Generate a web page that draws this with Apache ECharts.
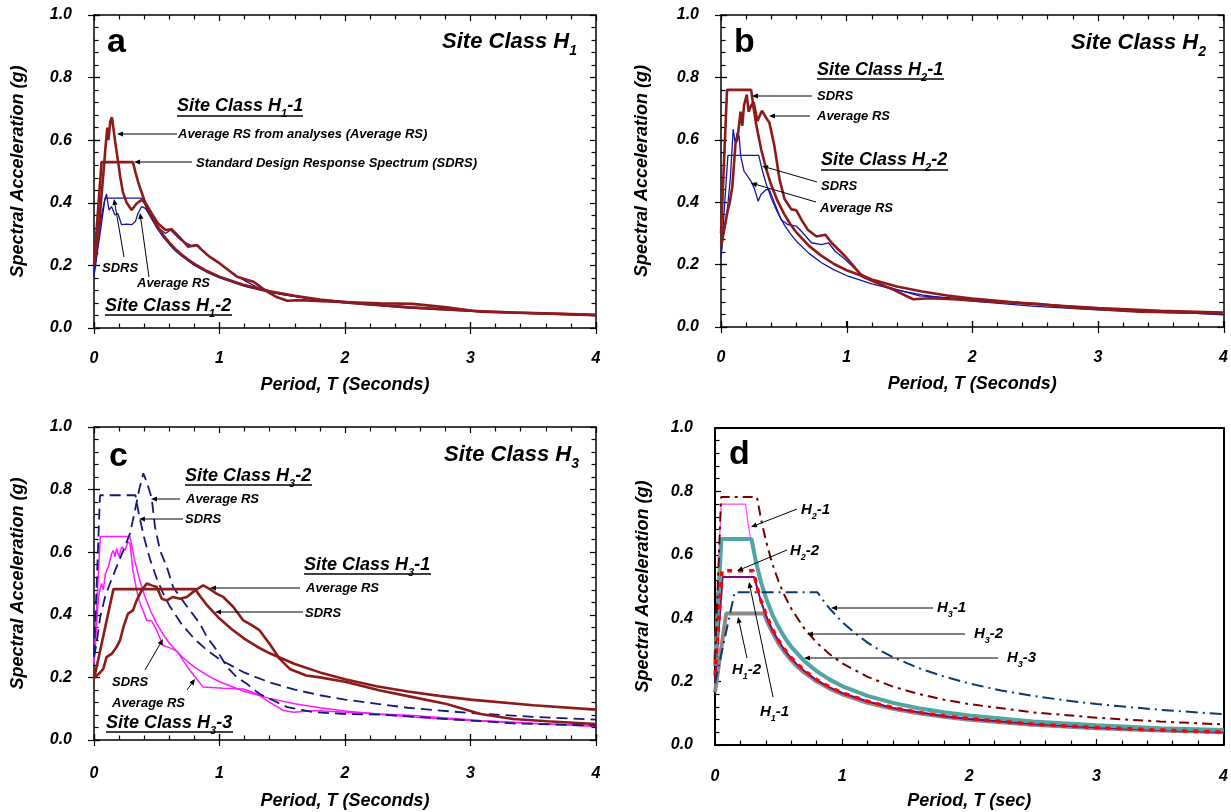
<!DOCTYPE html>
<html><head><meta charset="utf-8">
<script src="https://cdn.jsdelivr.net/npm/echarts@6/dist/echarts.min.js"></script>
<style>html,body{margin:0;padding:0;background:#fff}#c{width:1231px;height:812px}</style>
</head><body><div id="c"></div>
<script>
// ---------- tick labels ----------
const X_TICKS = [0, 1, 2, 3, 4];
const Y_TICKS = [0.0, 0.2, 0.4, 0.6, 0.8, 1.0];

// ---------- Panel a : Site Class H1 ----------
const H1_1_AVG = [[0,0.20],[0.02,0.25],[0.035,0.30],[0.055,0.40],[0.074,0.49],[0.09,0.57],[0.106,0.64],[0.115,0.60],[0.12,0.62],[0.13,0.66],[0.143,0.673],[0.154,0.64],[0.167,0.60],[0.19,0.537],[0.21,0.48],[0.23,0.435],[0.26,0.40],[0.30,0.377],[0.34,0.398],[0.38,0.41],[0.42,0.393],[0.46,0.366],[0.51,0.334],[0.57,0.313],[0.62,0.315],[0.69,0.286],[0.75,0.26],[0.82,0.265],[0.86,0.249],[0.92,0.228],[1.0,0.207],[1.14,0.164],[1.27,0.148],[1.38,0.116],[1.46,0.098],[1.54,0.087],[1.64,0.089],[1.91,0.084],[2.28,0.079],[2.54,0.077],[2.81,0.066],[3.08,0.052],[3.34,0.049],[3.6,0.047],[4.0,0.042]];
const H1_1_SDRS = [[0,0.20],[0.06,0.53],[0.31,0.53],[0.33,0.498],[0.35,0.469],[0.37,0.444],[0.4,0.41],[0.42,0.39],[0.45,0.364],[0.5,0.328],[0.55,0.298],[0.6,0.273],[0.65,0.252],[0.7,0.234],[0.75,0.219],[0.8,0.205],[0.9,0.182],[1.0,0.164],[1.2,0.137],[1.4,0.117],[1.6,0.103],[1.8,0.091],[2.0,0.082],[2.5,0.066],[3.0,0.055],[3.5,0.047],[4.0,0.041]];
const H1_2_AVG = [[0,0.175],[0.02,0.23],[0.04,0.30],[0.06,0.36],[0.08,0.40],[0.10,0.428],[0.11,0.40],[0.12,0.377],[0.14,0.388],[0.167,0.361],[0.19,0.366],[0.22,0.33],[0.26,0.332],[0.30,0.33],[0.33,0.34],[0.35,0.366],[0.38,0.388],[0.41,0.382],[0.45,0.356],[0.50,0.324],[0.57,0.302],[0.61,0.313],[0.69,0.281],[0.79,0.26],[0.83,0.265],[0.90,0.233],[1.0,0.205],[1.14,0.165],[1.3,0.13],[1.5,0.107],[1.75,0.092],[2.0,0.085],[2.5,0.068],[3.0,0.055],[3.5,0.047],[4.0,0.041]];
const H1_2_SDRS = [[0,0.166],[0.088,0.415],[0.385,0.415],[0.41,0.39],[0.45,0.356],[0.5,0.32],[0.55,0.291],[0.6,0.267],[0.65,0.246],[0.7,0.229],[0.8,0.2],[0.9,0.178],[1.0,0.16],[1.2,0.133],[1.4,0.114],[1.6,0.1],[1.8,0.089],[2.0,0.08],[2.5,0.064],[3.0,0.053],[3.5,0.046],[4.0,0.04]];

// ---------- Panel b : Site Class H2 ----------
const H2_1_AVG = [[0,0.26],[0.02,0.30],[0.05,0.366],[0.07,0.40],[0.09,0.45],[0.105,0.53],[0.116,0.59],[0.13,0.60],[0.143,0.645],[0.156,0.69],[0.17,0.645],[0.183,0.71],[0.205,0.745],[0.22,0.69],[0.24,0.71],[0.26,0.72],[0.29,0.66],[0.326,0.693],[0.36,0.67],[0.385,0.655],[0.425,0.58],[0.466,0.473],[0.506,0.41],[0.56,0.377],[0.60,0.374],[0.64,0.344],[0.69,0.312],[0.76,0.29],[0.83,0.296],[0.88,0.27],[0.99,0.226],[1.125,0.162],[1.23,0.143],[1.37,0.12],[1.53,0.089],[1.66,0.092],[1.85,0.089],[2.12,0.082],[2.52,0.074],[2.79,0.063],[3.33,0.049],[4.0,0.044]];
const H2_1_SDRS = [[0,0.30],[0.048,0.76],[0.24,0.76],[0.26,0.70],[0.28,0.65],[0.32,0.569],[0.36,0.506],[0.4,0.455],[0.45,0.404],[0.5,0.364],[0.55,0.331],[0.6,0.303],[0.7,0.26],[0.8,0.228],[0.9,0.202],[1.0,0.182],[1.2,0.152],[1.4,0.13],[1.6,0.114],[1.8,0.101],[2.0,0.091],[2.5,0.073],[3.0,0.061],[3.5,0.052],[4.0,0.046]];
const H2_2_AVG = [[0,0.23],[0.02,0.30],[0.048,0.366],[0.075,0.48],[0.097,0.634],[0.113,0.59],[0.129,0.623],[0.145,0.61],[0.156,0.55],[0.183,0.50],[0.237,0.468],[0.264,0.446],[0.296,0.403],[0.318,0.425],[0.358,0.44],[0.385,0.44],[0.425,0.398],[0.479,0.344],[0.533,0.328],[0.6,0.323],[0.64,0.307],[0.72,0.27],[0.80,0.264],[0.856,0.27],[0.91,0.242],[0.99,0.216],[1.1,0.173],[1.31,0.13],[1.58,0.10],[1.99,0.089],[2.52,0.073],[3.06,0.06],[4.0,0.039]];
const H2_2_SDRS = [[0,0.22],[0.055,0.55],[0.30,0.55],[0.33,0.50],[0.36,0.458],[0.4,0.413],[0.45,0.367],[0.5,0.33],[0.55,0.30],[0.6,0.275],[0.7,0.236],[0.8,0.206],[0.9,0.183],[1.0,0.165],[1.2,0.138],[1.4,0.118],[1.6,0.103],[1.8,0.092],[2.0,0.083],[2.5,0.066],[3.0,0.055],[3.5,0.047],[4.0,0.041]];

// ---------- Panel c : Site Class H3 ----------
const H3_1_AVG = [[0,0.20],[0.035,0.21],[0.074,0.227],[0.10,0.265],[0.14,0.275],[0.18,0.297],[0.207,0.318],[0.234,0.36],[0.27,0.403],[0.31,0.414],[0.34,0.446],[0.38,0.478],[0.42,0.50],[0.46,0.494],[0.50,0.489],[0.54,0.451],[0.58,0.446],[0.63,0.457],[0.685,0.451],[0.74,0.457],[0.805,0.478],[0.87,0.494],[0.92,0.483],[0.98,0.467],[1.03,0.457],[1.11,0.425],[1.19,0.382],[1.26,0.366],[1.32,0.35],[1.40,0.307],[1.48,0.259],[1.56,0.227],[1.69,0.206],[1.8,0.20],[2.01,0.185],[2.28,0.158],[2.54,0.137],[2.81,0.115],[3.08,0.083],[3.34,0.067],[3.61,0.06],[4.0,0.051]];
const H3_1_SDRS = [[0,0.195],[0.155,0.482],[0.805,0.482],[0.85,0.457],[0.9,0.431],[1.0,0.388],[1.1,0.353],[1.2,0.323],[1.3,0.298],[1.4,0.277],[1.6,0.243],[1.8,0.216],[2.0,0.194],[2.25,0.172],[2.5,0.155],[2.75,0.141],[3.0,0.129],[3.5,0.111],[4.0,0.097]];
const H3_2_AVG = [[0,0.265],[0.02,0.307],[0.048,0.39],[0.088,0.457],[0.127,0.50],[0.18,0.553],[0.234,0.606],[0.287,0.66],[0.327,0.734],[0.36,0.80],[0.393,0.852],[0.42,0.825],[0.46,0.772],[0.486,0.681],[0.526,0.606],[0.58,0.553],[0.63,0.489],[0.685,0.457],[0.765,0.414],[0.845,0.371],[0.90,0.329],[0.98,0.286],[1.06,0.233],[1.14,0.20],[1.22,0.179],[1.32,0.147],[1.43,0.126],[1.54,0.105],[1.75,0.089],[2.01,0.083],[2.28,0.081],[2.54,0.075],[2.81,0.067],[3.08,0.06],[3.34,0.053],[4.0,0.046]];
const H3_2_SDRS = [[0,0.27],[0.048,0.782],[0.33,0.782],[0.36,0.717],[0.4,0.645],[0.45,0.573],[0.5,0.516],[0.55,0.469],[0.6,0.43],[0.7,0.369],[0.8,0.323],[0.9,0.287],[1.0,0.258],[1.2,0.215],[1.4,0.184],[1.6,0.161],[1.8,0.143],[2.0,0.129],[2.5,0.103],[3.0,0.086],[3.5,0.074],[4.0,0.065]];
const H3_3_AVG = [[0,0.243],[0.02,0.36],[0.035,0.457],[0.06,0.50],[0.075,0.48],[0.09,0.53],[0.114,0.553],[0.14,0.595],[0.154,0.606],[0.167,0.585],[0.18,0.612],[0.20,0.585],[0.22,0.617],[0.247,0.606],[0.27,0.633],[0.287,0.627],[0.31,0.542],[0.34,0.478],[0.36,0.446],[0.39,0.414],[0.42,0.382],[0.46,0.38],[0.50,0.35],[0.55,0.302],[0.60,0.295],[0.66,0.284],[0.765,0.222],[0.87,0.169],[1.03,0.165],[1.19,0.163],[1.30,0.147],[1.40,0.12],[1.51,0.094],[1.59,0.089],[1.75,0.094],[2.01,0.089],[2.28,0.083],[2.54,0.078],[3.08,0.062],[3.6,0.051],[4.0,0.043]];
const H3_3_SDRS = [[0,0.25],[0.05,0.65],[0.287,0.65],[0.32,0.581],[0.36,0.517],[0.4,0.465],[0.45,0.413],[0.5,0.372],[0.55,0.338],[0.6,0.31],[0.7,0.266],[0.8,0.233],[0.9,0.207],[1.0,0.186],[1.2,0.155],[1.4,0.133],[1.6,0.116],[1.8,0.103],[2.0,0.093],[2.5,0.074],[3.0,0.062],[3.5,0.053],[4.0,0.047]];

// ---------- layout ----------
const FONT = '"Liberation Sans", Arial, Helvetica, sans-serif';
const PANELS = [
  {left:94,  top:15,  width:502, height:313, outer:true,  xName:'Period, T (Seconds)', yGap:67, xGap:48, xMargin:23, lw:1.5},
  {left:721, top:15,  width:503, height:312, outer:true,  xName:'Period, T (Seconds)', yGap:70, xGap:48, xMargin:23, lw:1.5},
  {left:94,  top:427, width:502, height:313, outer:true,  xName:'Period, T (Seconds)', yGap:67, xGap:52, xMargin:26, lw:1.5},
  {left:715, top:428, width:510, height:317, outer:false, xName:'Period, T (sec)',     yGap:63, xGap:47, xMargin:24, lw:2}
];
const YNAME = 'Spectral Acceleration (g)';

const grid = [], xAxis = [], yAxis = [];
const labelFont = {fontFamily:FONT, fontWeight:'bold', fontStyle:'italic', fontSize:16, color:'#000'};
const nameFont = {fontFamily:FONT, fontWeight:'bold', fontStyle:'italic', fontSize:18, color:'#000'};
const xMin = X_TICKS[0], xMax = X_TICKS[X_TICKS.length-1];
const yMin = Y_TICKS[0], yMax = Y_TICKS[Y_TICKS.length-1];

PANELS.forEach(p => {
  const g = grid.length;
  grid.push({left:p.left, top:p.top, width:p.width, height:p.height});
  const tl = {color:'#000', width:1.2};
  const axLine = {show:true, onZero:false, lineStyle:{color:'#000', width:p.lw}};
  const xb = {type:'value', gridIndex:g, min:xMin, max:xMax, interval:1, splitLine:{show:false}, axisLine:axLine};
  const yb = {type:'value', gridIndex:g, min:yMin, max:yMax, interval:0.2, splitLine:{show:false}, axisLine:axLine};
  const tick = {show:true, inside:true, length:6, lineStyle:tl};
  const minor = {show:true, splitNumber:5, length:4.5, lineStyle:tl};
  p.xi = xAxis.length;
  xAxis.push({...xb, position:'bottom', name:p.xName, nameLocation:'middle', nameGap:p.xGap, nameTextStyle:nameFont,
    axisLabel:{...labelFont, margin:p.xMargin, formatter: v => String(v)}, axisTick:tick, minorTick:minor});
  xAxis.push({...xb, position:'top', axisLabel:{show:false}, axisTick:{...tick, show:p.outer}, minorTick:{...minor, show:p.outer}});
  p.yi = yAxis.length;
  yAxis.push({...yb, position:'left', name:YNAME, nameLocation:'middle', nameGap:p.yGap, nameTextStyle:nameFont,
    axisLabel:{...labelFont, margin:22, formatter: v => v.toFixed(1)}, axisTick:tick, minorTick:minor});
  yAxis.push({...yb, position:'right', axisLabel:{show:false}, axisTick:{...tick, show:p.outer}, minorTick:{...minor, show:p.outer}});
  if (p.outer) {
    const g2 = grid.length;
    grid.push({left:p.left, top:p.top, width:p.width, height:p.height});
    const ob = {type:'value', gridIndex:g2, axisLine:{show:false}, axisLabel:{show:false}, splitLine:{show:false},
      axisTick:{show:true, inside:false, length:6, lineStyle:tl}};
    xAxis.push({...ob, min:xMin, max:xMax, interval:1, position:'bottom'});
    xAxis.push({...ob, min:xMin, max:xMax, interval:1, position:'top'});
    yAxis.push({...ob, min:yMin, max:yMax, interval:0.2, position:'left'});
    yAxis.push({...ob, min:yMin, max:yMax, interval:0.2, position:'right'});
  }
});

function line(pi, data, color, width, type, z) {
  return {type:'line', xAxisIndex:PANELS[pi].xi, yAxisIndex:PANELS[pi].yi, data, showSymbol:false, symbol:'none',
    lineStyle:{color, width, type:type || 'solid'}, z:z || 2, silent:true, animation:false};
}
const DRED = '#8E1B1B', BLUE = '#1515A0', NAVY = '#14197A', MAG = '#FF1AFF';
const series = [
  // a
  line(0, H1_2_SDRS, BLUE, 1.3), line(0, H1_2_AVG, BLUE, 1.3),
  line(0, H1_1_SDRS, DRED, 2.6, 'solid', 3), line(0, H1_1_AVG, DRED, 2.6, 'solid', 3),
  // b
  line(1, H2_2_SDRS, BLUE, 1.3), line(1, H2_2_AVG, BLUE, 1.3),
  line(1, H2_1_SDRS, DRED, 2.6, 'solid', 3), line(1, H2_1_AVG, DRED, 2.6, 'solid', 3),
  // c
  line(2, H3_3_SDRS, MAG, 1.5), line(2, H3_3_AVG, MAG, 1.5),
  line(2, H3_2_SDRS, NAVY, 1.8, [11,6], 3), line(2, H3_2_AVG, NAVY, 1.8, [11,6], 3),
  line(2, H3_1_SDRS, DRED, 2.6, 'solid', 4), line(2, H3_1_AVG, DRED, 2.6, 'solid', 4),
  // d
  line(3, H1_2_SDRS, '#8A8A8A', 4, 'solid', 2),
  line(3, H1_1_SDRS, '#7A0A7A', 2, 'solid', 3),
  line(3, H2_1_SDRS, '#FF44FF', 1.2, 'solid', 3),
  line(3, H3_3_SDRS, '#4FA6A2', 4, 'solid', 4),
  line(3, H2_2_SDRS, '#FF0000', 3.5, [5,6], 5),
  line(3, H3_1_SDRS, '#0A3A6E', 2, [12,5,2,5], 5),
  line(3, H3_2_SDRS, '#7A0000', 2, [10,5,3,5], 5)
];

// ---------- annotations ----------
function rich(parts) { return parts.map(p => Array.isArray(p) ? '{s|' + p[0] + '}' : '{m|' + p + '}').join(''); }
function txt(x, y, parts, size, align, italic) {
  const ss = Math.round(size * 0.62);
  return {type:'text', x, y, silent:true, z:100, style:{text:rich(parts), align:align || 'left', verticalAlign:'middle',
    rich:{
      m:{fontSize:size, fontWeight:'bold', fontStyle: italic === false ? 'normal' : 'italic', fontFamily:FONT, fill:'#000', lineHeight:Math.round(size*1.5)},
      s:{fontSize:ss, fontWeight:'bold', fontStyle:'italic', fontFamily:FONT, fill:'#000', lineHeight:ss, verticalAlign:'bottom'}
    }}};
}
function uline(x1, x2, y) { return {type:'line', silent:true, z:100, shape:{x1, y1:y, x2, y2:y}, style:{stroke:'#000', lineWidth:1.4}}; }
function arrow(x1, y1, x2, y2) {
  const dx = x2 - x1, dy = y2 - y1, L = Math.hypot(dx, dy), ux = dx / L, uy = dy / L;
  const hl = 6, hw = 2.6;
  const bx = x2 - ux * hl, by = y2 - uy * hl;
  return [
    {type:'line', silent:true, z:100, shape:{x1, y1, x2:bx, y2:by}, style:{stroke:'#000', lineWidth:1}},
    {type:'polygon', silent:true, z:100, shape:{points:[[x2,y2],[bx - uy*hw, by + ux*hw],[bx + uy*hw, by - ux*hw]]}, style:{fill:'#000'}}
  ];
}
const S1 = 18, SM = 13, ST = 22, SL = 34, SD = 15;
const G = [
  // panel a
  txt(107, 43, ['a'], SL, 'left', false),
  txt(577, 42, ['Site Class H', ['1']], ST, 'right'),
  txt(177, 106, ['Site Class H', ['1'], '-1'], S1), uline(177, 303, 116),
  txt(178, 134, ['Average RS from analyses (Average RS)'], SM), ...arrow(177, 134, 117, 134),
  txt(196, 163, ['Standard Design Response Spectrum (SDRS)'], SM), ...arrow(192, 162, 134, 162),
  txt(102, 268, ['SDRS'], SM), ...arrow(124, 257, 114, 199),
  txt(137, 283, ['Average RS'], SM), ...arrow(149, 277, 140, 213),
  txt(105, 306, ['Site Class H', ['1'], '-2'], S1), uline(105, 232, 315),
  // panel b
  txt(734, 43, ['b'], SL, 'left', false),
  txt(1206, 43, ['Site Class H', ['2']], ST, 'right'),
  txt(817, 70, ['Site Class H', ['2'], '-1'], S1), uline(817, 944, 79),
  txt(817, 96, ['SDRS'], SM), ...arrow(812, 96, 752, 96),
  txt(817, 116, ['Average RS'], SM), ...arrow(810, 116, 769, 116),
  txt(821, 160, ['Site Class H', ['2'], '-2'], S1), uline(821, 948, 170),
  txt(821, 186, ['SDRS'], SM), ...arrow(817, 182, 762, 166),
  txt(820, 208, ['Average RS'], SM), ...arrow(816, 202, 751, 183),
  // panel c
  txt(109, 457, ['c'], SL, 'left', false),
  txt(579, 455, ['Site Class H', ['3']], ST, 'right'),
  txt(185, 476, ['Site Class H', ['3'], '-2'], S1), uline(185, 312, 485),
  txt(186, 499, ['Average RS'], SM), ...arrow(180, 499, 151, 499),
  txt(185, 519, ['SDRS'], SM), ...arrow(183, 519, 139, 519),
  txt(304, 565, ['Site Class H', ['3'], '-1'], S1), uline(304, 431, 574),
  txt(306, 588, ['Average RS'], SM), ...arrow(300, 588, 210, 588),
  txt(305, 613, ['SDRS'], SM), ...arrow(303, 612, 215, 612),
  txt(112, 682, ['SDRS'], SM), ...arrow(145, 670, 163, 639),
  txt(112, 703, ['Average RS'], SM), ...arrow(187, 690, 195, 679),
  txt(106, 723, ['Site Class H', ['3'], '-3'], S1), uline(106, 233, 732),
  // panel d
  txt(729, 455, ['d'], SL, 'left', false),
  txt(801, 510, ['H', ['2'], '-1'], SD), ...arrow(797, 509, 751, 527),
  txt(790, 551, ['H', ['2'], '-2'], SD), ...arrow(787, 550, 737, 571),
  txt(937, 608, ['H', ['3'], '-1'], SD), ...arrow(933, 608, 831, 608),
  txt(974, 634, ['H', ['3'], '-2'], SD), ...arrow(965, 634, 807, 634),
  txt(1007, 658, ['H', ['3'], '-3'], SD), ...arrow(998, 658, 804, 658),
  txt(732, 670, ['H', ['1'], '-2'], SD), ...arrow(747, 658, 738, 617),
  txt(760, 712, ['H', ['1'], '-1'], SD), ...arrow(773, 697, 749, 582)
];

const chart = echarts.init(document.getElementById('c'));
chart.setOption({animation:false, backgroundColor:'#fff', grid, xAxis, yAxis, series, graphic:{elements:G}});
</script></body></html>
